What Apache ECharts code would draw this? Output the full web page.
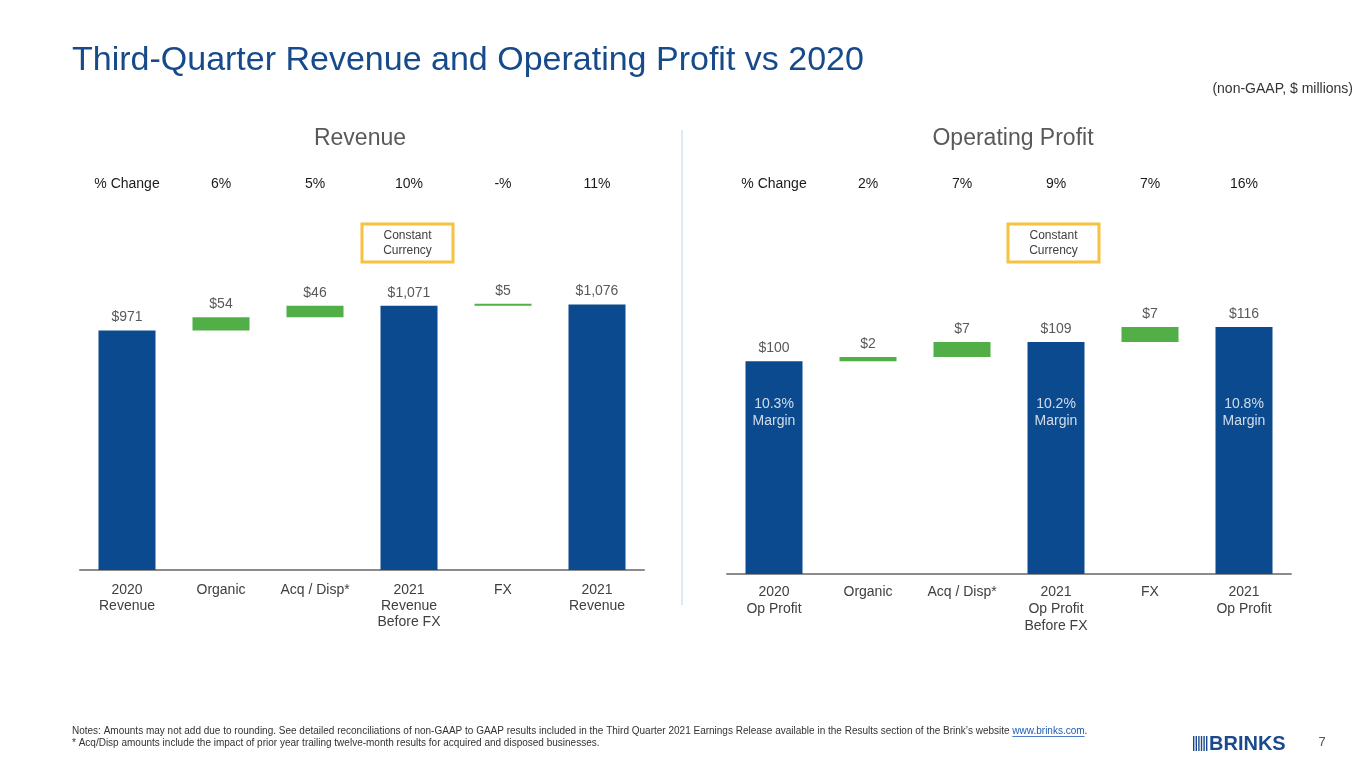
<!DOCTYPE html>
<html>
<head>
<meta charset="utf-8">
<title>Third-Quarter Revenue and Operating Profit vs 2020</title>
<script src="https://cdn.jsdelivr.net/npm/echarts@6/dist/echarts.min.js"></script>
<style>
    html, body { margin: 0; padding: 0; background: #fff; }
    #main { width: 1365px; height: 768px; }
</style>
</head>
<body>
<div id="main"></div>
<script>
// ---- data ----
var revCategories = ['2020\nRevenue', 'Organic', 'Acq / Disp*', '2021\nRevenue\nBefore FX', 'FX', '2021\nRevenue'];
var revValues = [971, 54, 46, 1071, 5, 1076];
var revIsTotal = [true, false, false, true, false, true];
var revChange = ['% Change', '6%', '5%', '10%', '-%', '11%'];

var opCategories = ['2020\nOp Profit', 'Organic', 'Acq / Disp*', '2021\nOp Profit\nBefore FX', 'FX', '2021\nOp Profit'];
var opValues = [100, 2, 7, 109, 7, 116];
var opIsTotal = [true, false, false, true, false, true];
var opChange = ['% Change', '2%', '7%', '9%', '7%', '16%'];
var opMargins = ['10.3%', '', '', '10.2%', '', '10.8%'];

var BLUE = '#0b4a8e';
var GREEN = '#52ae47';
var FONT = '"Liberation Sans", Arial, sans-serif';
// margin captions sit at one common level inside the blue bars (axis units)
var MARGIN_LABEL_LEVEL = 76;

// floating base for the increment bars
var waterfallBase = function (values, isTotal) {
    var base = [], running = 0;
    for (var i = 0; i < values.length; i++) {
        if (isTotal[i]) {
            base.push(0);
            running = values[i];
        } else {
            base.push(running);
            running += values[i];
        }
    }
    return base;
};

var barData = function (values, isTotal) {
    return values.map(function (v, i) {
        return {value: v, itemStyle: {color: isTotal[i] ? BLUE : GREEN}};
    });
};

var money = function (p) {
    return '$' + p.value.toLocaleString('en-US');
};

var bottomAxis = function (grid, cats, lh, margin) {
    return {
        type: 'category', gridIndex: grid, data: cats, position: 'bottom',
        axisLine: {lineStyle: {color: '#8c8c8c', width: 2}},
        axisTick: {show: false},
        axisLabel: {color: '#404040', fontSize: 14, fontFamily: FONT, lineHeight: lh, margin: margin, interval: 0}
    };
};

var topAxis = function (grid, labels, margin) {
    return {
        type: 'category', gridIndex: grid, data: labels, position: 'top',
        axisLine: {show: false},
        axisTick: {show: false},
        axisLabel: {color: '#1a1a1a', fontSize: 14, fontFamily: FONT, margin: margin, interval: 0}
    };
};

var marginPoints = [];
opMargins.forEach(function (m, i) {
    if (m) marginPoints.push({value: [i, MARGIN_LABEL_LEVEL], name: m});
});

var ccBox = function (x, y) {
    return {
        type: 'group', x: x, y: y,
        children: [
            {type: 'rect', shape: {x: 0, y: 0, width: 91, height: 38},
             style: {fill: 'none', stroke: '#f5c242', lineWidth: 3}},
            {type: 'text', style: {x: 45.5, y: 19, text: 'Constant\nCurrency', fill: '#404040',
             fontSize: 12, fontFamily: FONT, lineHeight: 15, align: 'center', verticalAlign: 'middle'}}
        ]
    };
};

var logoStripes = [];
for (var s = 0; s < 6; s++) {
    logoStripes.push({type: 'rect', shape: {x: 1193 + s * 2.6, y: 736, width: 1.4, height: 15}, style: {fill: '#1b4a8c'}});
}

var NOTE_1 = 'Notes: Amounts may not add due to rounding. See detailed reconciliations of non-GAAP to GAAP results included in the Third Quarter 2021 Earnings Release available in the Results section of the Brink\u2019s website ';
var LINK = 'www.brinks.com';
var NOTE_SIZE = 10;

var myChart = echarts.init(document.getElementById('main'));

var option = {
    backgroundColor: '#fff',
    animation: false,
    grid: [
        {left: 80, right: 721, top: 274, bottom: 198},
        {left: 727, right: 74, top: 276, bottom: 194}
    ],
    xAxis: [
        bottomAxis(0, revCategories, 16, 12),
        bottomAxis(1, opCategories, 17, 10),
        topAxis(0, revChange, 83),
        topAxis(1, opChange, 85)
    ],
    yAxis: [
        {type: 'value', gridIndex: 0, min: 0, max: 1200, show: false},
        {type: 'value', gridIndex: 1, min: 0, max: 140, show: false}
    ],
    series: [
        {
            type: 'bar', xAxisIndex: 0, yAxisIndex: 0, stack: 'rev', silent: true,
            barWidth: 57, itemStyle: {color: 'rgba(0,0,0,0)'},
            data: waterfallBase(revValues, revIsTotal)
        },
        {
            type: 'bar', xAxisIndex: 0, yAxisIndex: 0, stack: 'rev',
            barWidth: 57, barMinHeight: 2,
            data: barData(revValues, revIsTotal),
            label: {show: true, position: 'top', distance: 6, color: '#595959', fontSize: 14, fontFamily: FONT, formatter: money}
        },
        {
            type: 'bar', xAxisIndex: 1, yAxisIndex: 1, stack: 'op', silent: true,
            barWidth: 57, itemStyle: {color: 'rgba(0,0,0,0)'},
            data: waterfallBase(opValues, opIsTotal)
        },
        {
            type: 'bar', xAxisIndex: 1, yAxisIndex: 1, stack: 'op',
            barWidth: 57, barMinHeight: 2,
            data: barData(opValues, opIsTotal),
            label: {show: true, position: 'top', distance: 6, color: '#595959', fontSize: 14, fontFamily: FONT, formatter: money}
        },
        {
            type: 'scatter', xAxisIndex: 1, yAxisIndex: 1, symbolSize: 0, silent: true, z: 5,
            data: marginPoints,
            label: {
                show: true, position: 'inside', color: '#fff', fontSize: 14,
                fontFamily: FONT, lineHeight: 17, align: 'center', verticalAlign: 'middle',
                formatter: function (p) { return p.name + '\nMargin'; }
            }
        }
    ],
    graphic: [
        {type: 'text', style: {x: 72, y: 61, text: 'Third-Quarter Revenue and Operating Profit vs 2020',
         fill: '#164a8a', fontSize: 34, fontFamily: FONT, verticalAlign: 'middle'}},
        {type: 'text', style: {x: 1353, y: 89, text: '(non-GAAP, $ millions)', fill: '#333',
         fontSize: 14, fontFamily: FONT, align: 'right', verticalAlign: 'middle'}},
        {type: 'text', style: {x: 360, y: 139, text: 'Revenue', fill: '#595959',
         fontSize: 23, fontFamily: FONT, align: 'center', verticalAlign: 'middle'}},
        {type: 'text', style: {x: 1013, y: 139, text: 'Operating Profit', fill: '#595959',
         fontSize: 23, fontFamily: FONT, align: 'center', verticalAlign: 'middle'}},
        {type: 'line', shape: {x1: 682, y1: 130, x2: 682, y2: 605}, style: {stroke: '#bcd3ea', lineWidth: 1}},
        ccBox(362, 224),
        ccBox(1008, 224),
        {type: 'text', style: {x: 72, y: 731, fill: '#333', fontSize: NOTE_SIZE, fontFamily: FONT, verticalAlign: 'middle',
         text: NOTE_1 + '{a|' + LINK + '}.',
         rich: {a: {fill: '#1f5bb5', fontSize: NOTE_SIZE, fontFamily: FONT}}}},
        {type: 'text', style: {x: 72, y: 743, fill: '#333', fontSize: NOTE_SIZE, fontFamily: FONT, verticalAlign: 'middle',
         text: '* Acq/Disp amounts include the impact of prior year trailing twelve-month results for acquired and disposed businesses.'}},
        {type: 'group', children: logoStripes},
        {type: 'text', style: {x: 1209, y: 744, text: 'BRINKS', fill: '#1b4a8c', fontSize: 20, fontWeight: 'bold',
         fontFamily: FONT, verticalAlign: 'middle'}},
        {type: 'text', style: {x: 1322, y: 742, text: '7', fill: '#555', fontSize: 13, fontFamily: FONT,
         align: 'center', verticalAlign: 'middle'}}
    ]
};

myChart.setOption(option);

// underline the website link in the first note
var ctx = document.createElement('canvas').getContext('2d');
ctx.font = NOTE_SIZE + 'px ' + FONT;
var linkX = 72 + ctx.measureText(NOTE_1).width;
var linkW = ctx.measureText(LINK).width;
myChart.setOption({graphic: option.graphic.concat([
    {type: 'line', shape: {x1: linkX, y1: 736.5, x2: linkX + linkW, y2: 736.5}, style: {stroke: '#1f5bb5', lineWidth: 0.8}}
])});
</script>
</body>
</html>
